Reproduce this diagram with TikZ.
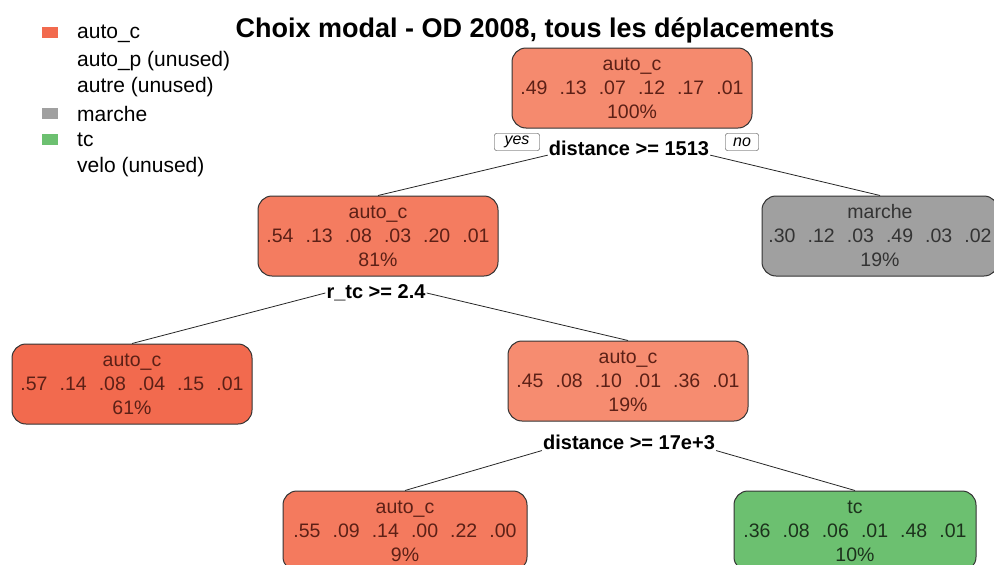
\documentclass[tikz,border=0pt]{standalone}
\usepackage{fontspec}
\setmainfont{Liberation Sans}
\usetikzlibrary{positioning}

\definecolor{autoroot}{RGB}{245,138,110}
\definecolor{autohigh}{RGB}{244,124,96}
\definecolor{autofull}{RGB}{242,106,78}
\definecolor{autolow}{RGB}{246,140,112}
\definecolor{automid}{RGB}{244,122,94}
\definecolor{autotext}{RGB}{92,32,22}
\definecolor{marchegris}{RGB}{160,160,160}
\definecolor{tcvert}{RGB}{108,192,112}
\definecolor{tctext}{RGB}{28,50,28}
\newcommand{\probs}[6]{#1\hspace{0.62em}#2\hspace{0.62em}#3\hspace{0.62em}#4\hspace{0.62em}#5\hspace{0.62em}#6}

\begin{document}
\begin{tikzpicture}[x=1pt, y=-1pt, leaf/.style={rectangle, rounded corners=14pt, draw=black!80, line width=1pt, minimum width=240pt, minimum height=80pt, inner sep=0pt, align=center, font=\fontsize{19.5}{24}\selectfont}, split/.style={font=\bfseries\fontsize{20}{24}\selectfont, inner sep=1pt}, answer/.style={draw=black!80, rounded corners=2pt, fill=white, minimum width=44pt, minimum height=17pt, inner sep=1pt, font=\itshape\fontsize{16}{18}\selectfont}, legendkey/.style={minimum width=16pt, minimum height=11pt, inner sep=0pt}, legendtext/.style={anchor=west, inner sep=0pt, font=\fontsize{21}{24}\selectfont}]
  {
  \clip (0,0) rectangle (994,565);

  % titre et legende
  \node[font=\bfseries\fontsize{27}{30}\selectfont] (titre) at (535,30) {Choix modal - OD 2008, tous les déplacements};
  \node[legendkey, fill=autofull] (kauto) at (50,32) {};
  \node[legendkey, fill=marchegris] (kmarche) at (50,113) {};
  \node[legendkey, fill=tcvert] (ktc) at (50,139) {};
  \node[legendtext] (lauto) at (77,34) {auto\_c};
  \node[legendtext] (lautop) at (77,61) {auto\_p (unused)};
  \node[legendtext] (lautre) at (77,87) {autre (unused)};
  \node[legendtext] (lmarche) at (77,114) {marche};
  \node[legendtext] (ltc) at (77,140) {tc};
  \node[legendtext] (lvelo) at (77,167) {velo (unused)};

  % noeuds de l'arbre
  \node[leaf, fill=autoroot, text=autotext] (racine) at (632,88) {auto\_c\\\probs{.49}{.13}{.07}{.12}{.17}{.01}\\100\%};
  \node[leaf, fill=autohigh, text=autotext] (dloin) at (378,236) {auto\_c\\\probs{.54}{.13}{.08}{.03}{.20}{.01}\\81\%};
  \node[leaf, fill=marchegris, text=black!80, minimum width=236pt] (marche) at (880,236) {marche\\\probs{.30}{.12}{.03}{.49}{.03}{.02}\\19\%};
  \node[leaf, fill=autofull, text=autotext] (rhaut) at (132,384) {auto\_c\\\probs{.57}{.14}{.08}{.04}{.15}{.01}\\61\%};
  \node[leaf, fill=autolow, text=autotext] (rbas) at (628,381) {auto\_c\\\probs{.45}{.08}{.10}{.01}{.36}{.01}\\19\%};
  \node[leaf, fill=automid, text=autotext, minimum width=244pt] (tresloin) at (405,531) {auto\_c\\\probs{.55}{.09}{.14}{.00}{.22}{.00}\\9\%};
  \node[leaf, fill=tcvert, text=tctext, minimum width=242pt] (tc) at (855,531) {tc\\\probs{.36}{.08}{.06}{.01}{.48}{.01}\\10\%};

  % regles de partage
  \node[split] (sdist) at (629,148) {distance >= 1513};
  \node[split] (srtc) at (376,293) {r\_tc >= 2.4};
  \node[split] (sdist2) at (629,442) {distance >= 17e+3};

  \draw[black!85, line width=0.8pt] (sdist.base west) -- (dloin.north);
  \draw[black!85, line width=0.8pt] (sdist.base east) -- (marche.north);
  \draw[black!85, line width=0.8pt] (srtc.west) -- (rhaut.north);
  \draw[black!85, line width=0.8pt] (srtc.east) -- (rbas.north);
  \draw[black!85, line width=0.8pt] (sdist2.south west) -- (tresloin.north);
  \draw[black!85, line width=0.8pt] (sdist2.south east) -- (tc.north);

  \node[answer, minimum width=45pt] (oui) at (517,142) {yes};
  \node[answer, minimum width=33pt] (non) at (742,142) {no};
}
\end{tikzpicture}
\end{document}
